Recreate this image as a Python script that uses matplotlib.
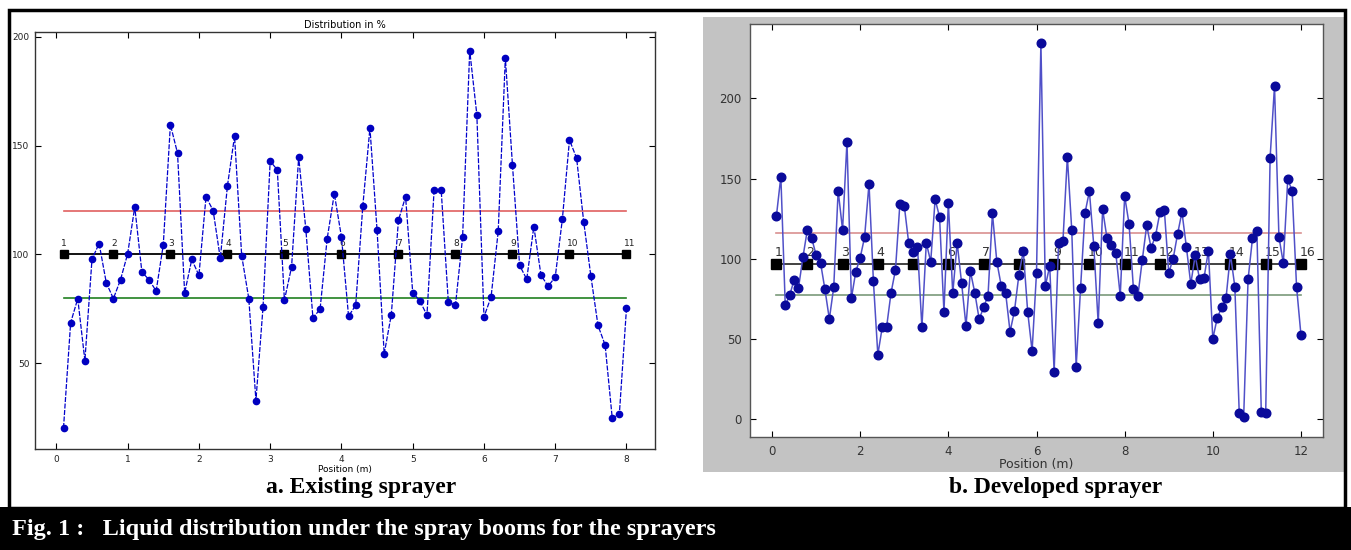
import matplotlib.pyplot as plt
import numpy as np
from matplotlib.patches import Rectangle

W, H = 1351, 550

# ---- a. Existing sprayer (readings every 0.1 m) ----
pos_a = np.arange(1, 81) / 10
dist_a = [20.3, 68.6, 79.7, 51.2, 97.9, 105.0, 87.0, 79.7, 88.4, 100.3,
          121.8, 91.9, 88.4, 83.2, 104.4, 159.6, 146.5, 82.3, 97.7, 90.4,
          126.5, 120.1, 98.2, 131.4, 154.3, 99.5, 79.7, 32.9, 75.9, 142.8,
          138.9, 79.0, 94.2, 144.7, 111.7, 70.9, 74.8, 107.3, 127.9, 108.1,
          71.6, 76.7, 122.3, 158.1, 111.1, 54.3, 72.4, 115.7, 126.5, 82.5,
          78.7, 72.1, 129.4, 129.4, 78.2, 76.7, 107.8, 193.6, 164.2, 71.3,
          80.5, 110.7, 190.2, 141.0, 95.0, 88.6, 112.8, 90.5, 85.4, 89.6,
          116.2, 152.6, 144.2, 114.9, 90.1, 67.4, 58.4, 24.8, 26.8, 75.3]
nozzles_a = [0.1, 0.8, 1.6, 2.4, 3.2, 4.0, 4.8, 5.6, 6.4, 7.2, 8.0]
mean_a = 100

# ---- b. Developed sprayer ----
pos_b = np.arange(1, 121) / 10
dist_b = [126.9, 151.2, 71.0, 77.3, 86.8, 81.8, 100.9, 117.9, 112.8, 102.4,
          97.6, 81.0, 62.5, 82.4, 142.4, 118.1, 173.0, 75.4, 92.0, 100.7,
          113.6, 146.8, 86.0, 40.3, 57.3, 57.7, 78.9, 93.0, 134.1, 133.1,
          110.0, 104.4, 107.5, 57.3, 110.0, 98.2, 137.1, 126.2, 67.1, 135.0,
          78.5, 110.0, 85.1, 58.3, 92.2, 78.9, 62.3, 69.8, 77.0, 128.3,
          98.2, 83.2, 78.7, 54.6, 67.5, 89.9, 105.0, 67.0, 42.6, 91.3,
          234.6, 83.1, 95.5, 29.7, 109.7, 111.1, 163.6, 117.9, 32.8, 82.0,
          128.5, 142.1, 108.0, 59.8, 130.8, 112.8, 108.6, 103.4, 77.0, 139.1,
          121.7, 81.0, 76.9, 99.3, 120.9, 106.8, 114.3, 128.9, 130.6, 91.3,
          100.0, 115.4, 129.1, 107.5, 84.3, 102.2, 87.2, 88.0, 105.1, 50.2,
          63.1, 69.7, 75.5, 102.9, 82.6, 3.7, 1.3, 87.2, 112.7, 117.5,
          4.7, 4.1, 163.0, 207.7, 113.8, 97.2, 149.5, 142.5, 82.6, 52.5]
nozzles_b = [0.1, 0.8, 1.6, 2.4, 3.2, 4.0, 4.8, 5.6, 6.4, 7.2, 8.0,
             8.8, 9.6, 10.4, 11.2, 12.0]
mean_b = 96.7


def fig_box(x0, y0, x1, y1):
    # pixel box (top-left origin) -> figure fraction rect
    return [x0 / W, 1 - y1 / H, (x1 - x0) / W, (y1 - y0) / H]


fig = plt.figure(figsize=(W / 100, H / 100), dpi=100)
fig.patch.set_facecolor('white')

# grey screenshot background of panel b
fig.patches.append(Rectangle((703 / W, 1 - 472 / H), (1345 - 703) / W, (472 - 17) / H,
                             transform=fig.transFigure, fc='#c3c3c3', ec='none', zorder=-2))
# outer frame and caption band
fig.patches.append(Rectangle((9 / W, 1 - 508 / H), (1345 - 9) / W, (508 - 10) / H,
                             transform=fig.transFigure, fill=False, ec='black', lw=2.5, zorder=1))
fig.patches.append(Rectangle((0, 0), 1, 43 / H, transform=fig.transFigure,
                             fc='black', ec='none', zorder=1))


def draw_panel(ax, pos, dist, nozzles, mean, style):
    ax.plot(pos, dist, **style['line'])
    x0, x1 = nozzles[0], nozzles[-1]
    ax.plot([x0, x1], [mean * 1.2, mean * 1.2], color=style['red'], lw=1.2, zorder=2)
    ax.plot([x0, x1], [mean * 0.8, mean * 0.8], color=style['green'], lw=1.2, zorder=2)
    ax.plot(nozzles, [mean] * len(nozzles), color=style['black'], lw=1.3,
            marker='s', ms=style['sq'], mfc='black', mec='black', zorder=3)
    for i, x in enumerate(nozzles):
        ax.text(x - 0.03, mean + style['lab_dy'], str(i + 1), fontsize=style['lab_fs'],
                color=style['lab_c'], ha='left', va='bottom', zorder=4)
    ax.tick_params(direction='in', top=True, right=True, length=4, width=0.8,
                   labelsize=style['tick_fs'], labelcolor=style['lab_c'], pad=style['pad'])
    for s in ax.spines.values():
        s.set_linewidth(1.0)
        s.set_color(style['spine'])


# ---- panel a ----
ax1 = fig.add_axes(fig_box(35, 31.7, 655, 449.3))
style_a = dict(line=dict(color='#0000cc', lw=0.9, ls=(0, (4, 1.2)), marker='o', ms=4.5,
                         mfc='#0000c0', mec='#0000c0', zorder=5),
               red='#e06060', green='#208020', black='black', sq=6,
               lab_dy=3, lab_fs=6.5, lab_c='#222222', tick_fs=6.5, pad=4, spine='#333333')
draw_panel(ax1, pos_a, dist_a, nozzles_a, mean_a, style_a)
ax1.set_xlim(-0.3, 8.4)
ax1.set_ylim(10.5, 202.3)
ax1.set_xticks(range(0, 9))
ax1.set_yticks([50, 100, 150, 200])
ax1.set_title('Distribution in %', fontsize=7, pad=3)
ax1.set_xlabel('Position (m)', fontsize=6.5, labelpad=1)

# ---- panel b ----
ax2 = fig.add_axes(fig_box(750, 24, 1323, 436.7))
style_b = dict(line=dict(color='#5050c8', lw=1.1, marker='o', ms=6.2,
                         mfc='#0a0a9a', mec='#0a0a9a', zorder=5),
               red='#d99090', green='#7a9a7a', black='#333333', sq=7.5,
               lab_dy=3.5, lab_fs=9, lab_c='#333333', tick_fs=8.5, pad=6, spine='#555555')
draw_panel(ax2, pos_b, dist_b, nozzles_b, mean_b, style_b)
ax2.set_xlim(-0.5, 12.5)
ax2.set_ylim(-10.8, 246.3)
ax2.set_xticks(range(0, 13, 2))
ax2.set_yticks([0, 50, 100, 150, 200])
ax2.set_xlabel('Position (m)', fontsize=9, color='#333333', labelpad=0)

# ---- captions ----
serif = ['Liberation Serif', 'DejaVu Serif']
fig.text(361 / W, 1 - 488 / H, 'a. Existing sprayer', family=serif, weight='bold',
         fontsize=17, ha='center', va='center')
fig.text(1056 / W, 1 - 488 / H, 'b. Developed sprayer', family=serif, weight='bold',
         fontsize=17, ha='center', va='center')
fig.text(12 / W, 1 - 529 / H, 'Fig. 1 :   Liquid distribution under the spray booms for the sprayers',
         family=serif, weight='bold', fontsize=17.5, color='white', ha='left', va='center')

fig.savefig('out.png', dpi=100)
